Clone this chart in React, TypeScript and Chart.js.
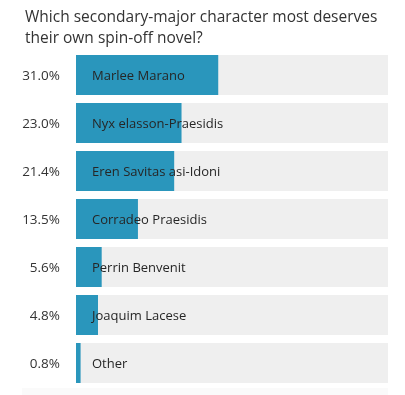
import React, { useEffect, useRef } from "react";
import { Chart, registerables } from "chart.js";

Chart.register(...registerables);

const titleLines = ["Which secondary-major character most deserves", "their own spin-off novel?"];
const categories = [
  "Marlee Marano",
  "Nyx elasson-Praesidis",
  "Eren Savitas asi-Idoni",
  "Corradeo Praesidis",
  "Perrin Benvenit",
  "Joaquim Lacese",
  "Other",
];
const values = [31.0, 23.0, 21.4, 13.5, 5.6, 4.8, 0.8];
const percentLabels = ["31.0%", "23.0%", "21.4%", "13.5%", "5.6%", "4.8%", "0.8%"];
const scaleMax = 68;

const FONT = "'Open Sans', 'Noto Sans', sans-serif";

export default function App() {
  const ref = useRef<HTMLCanvasElement | null>(null);
  useEffect(() => {
    if (!ref.current) return;
    const textPlugin = {
      id: "texts",
      beforeDatasetsDraw(chart: any) {
        const { ctx, chartArea, height } = chart;
        ctx.save();
        ctx.fillStyle = "#fafafa";
        ctx.fillRect(22, chartArea.bottom + 1, chartArea.right - 22, height - chartArea.bottom - 1);
        ctx.restore();
      },
      afterDatasetsDraw(chart: any) {
        const { ctx, scales } = chart;
        const x0 = scales.x.getPixelForValue(0);
        ctx.save();
        ctx.fillStyle = "#262626";
        ctx.font = `13px ${FONT}`;
        ctx.textAlign = "left";
        ctx.textBaseline = "middle";
        categories.forEach((c, i) => {
          const y = scales.y.getPixelForValue(i);
          ctx.fillText(c, x0 + 16, y + 1);
        });
        ctx.fillStyle = "#333333";
        ctx.font = `13.5px ${FONT}`;
        ctx.textAlign = "right";
        percentLabels.forEach((p, i) => {
          const y = scales.y.getPixelForValue(i);
          ctx.fillText(p, x0 - 16, y + 1);
        });
        ctx.font = `15.5px ${FONT}`;
        ctx.textAlign = "left";
        ctx.textBaseline = "alphabetic";
        ctx.fillStyle = "#333333";
        titleLines.forEach((t, i) => {
          ctx.fillText(t, 25, 21.5 + i * 21.5);
        });
        ctx.restore();
      },
    };
    const chart = new Chart(ref.current, {
      type: "bar",
      data: {
        labels: categories,
        datasets: [
          {
            data: values.map((v) => Math.max(v, 1)),
            backgroundColor: "#2a96bc",
            grouped: false,
            categoryPercentage: 1,
            barPercentage: 40 / 48,
            order: 0,
          } as any,
          {
            data: values.map(() => scaleMax),
            backgroundColor: "#efefef",
            grouped: false,
            categoryPercentage: 1,
            barPercentage: 40 / 48,
            order: 1,
          } as any,
        ],
      },
      options: {
        indexAxis: "y",
        animation: false,
        responsive: true,
        maintainAspectRatio: false,
        layout: { padding: { top: 51, right: 17, bottom: 8, left: 76 } },
        plugins: {
          legend: { display: false },
          tooltip: { enabled: false },
          title: { display: false },
        },
        scales: {
          x: { min: 0, max: scaleMax, display: false },
          y: { display: false },
        },
      },
      plugins: [textPlugin],
    });
    return () => chart.destroy();
  }, []);
  return (
    <div style={{ position: "fixed", left: 0, top: 0, width: 405, height: 395, background: "#fff" }}>
      <canvas ref={ref} />
    </div>
  );
}
